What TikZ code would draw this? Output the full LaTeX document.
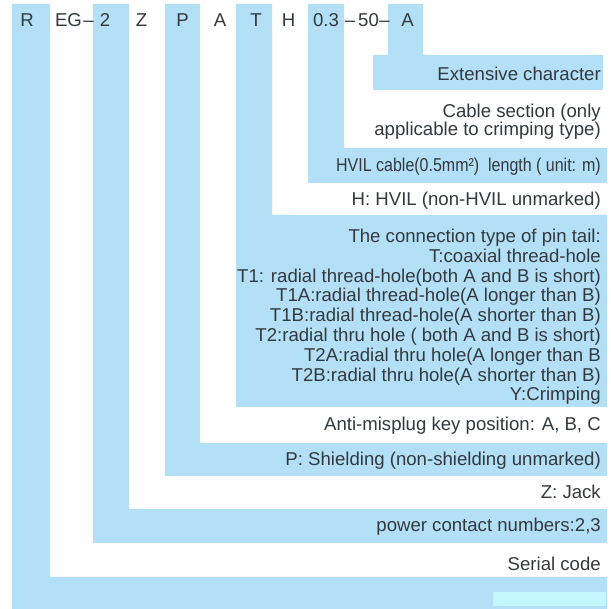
\documentclass[tikz,border=0pt]{standalone}
\usepackage{fontspec}
\setmainfont{Liberation Sans}
\newfontfamily\narrowfont[FakeStretch=0.86]{Liberation Sans}
\definecolor{bandblue}{HTML}{B3E0F7}
\definecolor{paleaqua}{HTML}{C4F6FD}
\definecolor{inkgray}{HTML}{33393F}

\begin{document}
\begin{tikzpicture}[x=1pt, y=-1pt, every node/.style={font=\fontsize{18.6}{19.8}\selectfont, text=inkgray, inner sep=0pt}, code/.style={anchor=base}, desc/.style={anchor=base east, align=right}]
	\useasboundingbox (0,0) rectangle (611,609);
	\fill[white] (0,0) rectangle (611,609);
	% blue L strips: column left/right, band top/bottom
	\foreach \xl/\xr/\yt/\yb in {12/50/577/609, 93/129/509/543, 165/200/443/476, 236/272/215/407, 308/344/148/183} {\fill[bandblue] (\xl,4) -- (\xr,4) -- (\xr,\yt) -- (607,\yt) -- (607,\yb) -- (\xl,\yb) -- cycle;}
	\fill[bandblue] (388,4) -- (423,4) -- (423,55) -- (603,55) -- (603,90) -- (373,90) -- (373,55) -- (388,55) -- cycle;
	\fill[paleaqua] (493,592) rectangle (606,606);
	% part number
	\node[code] (cR) at (27,27) {R}; \node[code] (cEG) at (68.5,27) {EG}; \node[code] (cD1) at (88.5,27) {–}; \node[code] (c2) at (105,27) {2};
	\node[code] (cZ) at (141.5,27) {Z}; \node[code] (cP) at (182.5,27) {P}; \node[code] (cA) at (220,27) {A}; \node[code] (cT) at (256,27) {T};
	\node[code] (cH) at (288.5,27) {H}; \node[code] (c03) at (326,27) {0.3}; \node[code] (cD2) at (350,27) {–}; \node[code] (c50) at (368.5,27) {50};
	\node[code] (cD3) at (384.5,27) {–}; \node[code] (cExt) at (407.5,27) {A};
	% meanings (multi-line ones sit on their last line)
	\node[desc] (dExt) at (601,81) {Extensive character};
	\node[desc, font=\fontsize{18.6}{18}\selectfont] (dCable) at (601,136) {Cable section (only\\applicable to crimping type)};
	\node[desc, font=\narrowfont\fontsize{18.6}{19.8}\selectfont] (dLen) at (601,172) {HVIL cable(0.5mm²)~ length ( unit: m)};
	\node[desc] (dHvil) at (601,206) {H: HVIL (non-HVIL unmarked)};
	\node[desc] (dPin) at (601,401) {The connection type of pin tail:\\T:coaxial thread-hole\\T1: radial thread-hole(both A and B is short)\\T1A:radial thread-hole(A longer than B)\\T1B:radial thread-hole(A shorter than B)\\T2:radial thru hole ( both A and B is short)\\T2A:radial thru hole(A longer than B\\T2B:radial thru hole(A shorter than B)\\Y:Crimping};
	\node[desc] (dKey) at (601,431) {Anti-misplug key position: A, B, C};
	\node[desc] (dShield) at (601,466) {P: Shielding (non-shielding unmarked)};
	\node[desc] (dJack) at (601,499) {Z: Jack};
	\node[desc] (dPower) at (601,532) {power contact numbers:2,3};
	\node[desc] (dSerial) at (601,571) {Serial code};
\end{tikzpicture}
\end{document}
